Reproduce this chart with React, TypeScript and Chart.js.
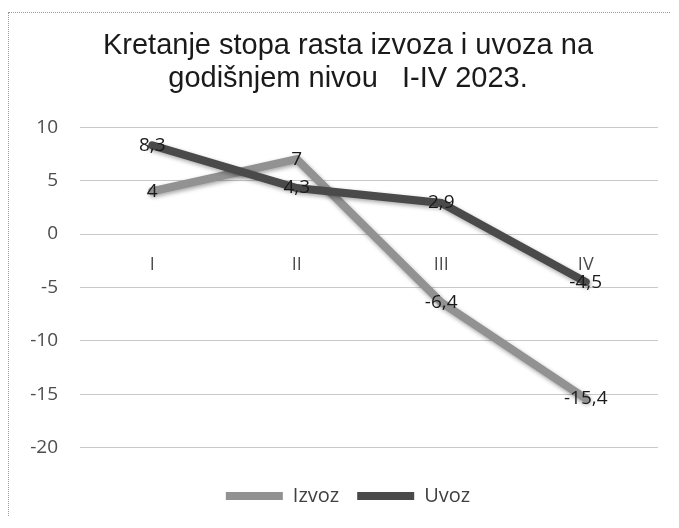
import React, { useEffect, useRef } from 'react';
import { Chart, registerables } from 'chart.js';

Chart.register(...registerables);

const categories = ['I', 'II', 'III', 'IV'];
const izvoz = [4, 7, -6.4, -15.4];
const uvoz = [8.3, 4.3, 2.9, -4.5];
const seriesNames = ['Izvoz', 'Uvoz'];
const titleLines = ['Kretanje stopa rasta izvoza i uvoza na', 'godišnjem nivou   I-IV 2023.'];
const yMin = -20;
const yMax = 10;
const yStep = 5;

const fmt = (v: number) => String(v).replace('.', ',');

const valueLabels = {
  id: 'valueLabels',
  afterDatasetsDraw(chart: any) {
    const ctx = chart.ctx;
    ctx.save();
    ctx.font = '19px "Open Sans"';
    ctx.fillStyle = '#1a1a1a';
    ctx.textAlign = 'center';
    ctx.textBaseline = 'middle';
    chart.data.datasets.forEach((ds: any, i: number) => {
      const meta = chart.getDatasetMeta(i);
      meta.data.forEach((pt: any, j: number) => {
        ctx.fillText(fmt(ds.data[j]), pt.x, pt.y);
      });
    });
    ctx.restore();
  },
};

const lineShadow = {
  id: 'lineShadow',
  beforeDatasetDraw(chart: any) {
    const c = chart.ctx;
    c.save();
    c.shadowColor = 'rgba(0,0,0,0.35)';
    c.shadowBlur = 4;
    c.shadowOffsetX = 1;
    c.shadowOffsetY = 2;
  },
  afterDatasetDraw(chart: any) {
    chart.ctx.restore();
  },
};

// let the y-axis tick labels use the space to the left of the axis box
const widenYLabelArea = {
  id: 'widenYLabelArea',
  afterLayout(chart: any) {
    const y = chart.scales.y;
    if (y) y.left = 0;
  },
};

export default function App() {
  const ref = useRef<HTMLCanvasElement | null>(null);
  useEffect(() => {
    if (!ref.current) return;
    const chart = new Chart(ref.current, {
      type: 'line',
      data: {
        labels: categories,
        datasets: [
          {
            label: seriesNames[0],
            data: izvoz,
            borderColor: '#929292',
            backgroundColor: '#929292',
            borderWidth: 8,
            borderCapStyle: 'round',
            pointRadius: 0,
            tension: 0,
            order: 1,
          },
          {
            label: seriesNames[1],
            data: uvoz,
            borderColor: '#4a4a4a',
            backgroundColor: '#4a4a4a',
            borderWidth: 8,
            borderCapStyle: 'round',
            pointRadius: 0,
            tension: 0,
            order: 0,
          },
        ],
      },
      options: {
        responsive: false,
        animation: false,
        layout: { padding: { top: 0, right: 29, bottom: 0, left: 29 } },
        plugins: {
          tooltip: { enabled: false },
          title: {
            display: true,
            text: titleLines,
            color: '#1a1a1a',
            font: { family: '"Liberation Sans", Arial', size: 29, weight: 'normal', lineHeight: 1.14 },
            padding: { top: 16.5, bottom: 31.5 },
          },
          legend: {
            position: 'bottom',
            title: { display: true, text: ' ', font: { size: 1 }, padding: { top: 19, bottom: 0 } },
            labels: {
              sort: (a: any, b: any) => a.datasetIndex - b.datasetIndex,
              usePointStyle: true,
              pointStyle: 'line',
              pointStyleWidth: 57,
              color: '#404040',
              padding: 18,
              font: { family: '"Open Sans"', size: 20 },
            },
          },
        },
        scales: {
          x: {
            position: { y: 0 },
            offset: true,
            grid: { display: false, drawTicks: false, offset: true },
            border: { display: false },
            ticks: { color: '#4d4d4d', padding: 20, font: { family: '"Open Sans"', size: 18 } },
          },
          y: {
            min: yMin,
            max: yMax,
            afterFit: (s: any) => { s.width = 42; },
            grid: { color: '#c9c9c9', drawTicks: false },
            border: { display: false },
            ticks: { stepSize: yStep, color: '#4d4d4d', padding: 22, font: { family: '"Open Sans"', size: 19 } },
          },
        },
      },
      plugins: [lineShadow, valueLabels, widenYLabelArea],
    } as any);
    return () => chart.destroy();
  }, []);
  return (
    <div style={{ marginTop: 4, height: 503, width: '100%', overflow: 'hidden', borderLeft: '1px dotted #9a9a9a', borderTop: '1px dotted #9a9a9a', position: 'relative' }}>
      <canvas ref={ref} width={678} height={503} style={{ display: 'block', width: 678, height: 503 }} />
    </div>
  );
}
